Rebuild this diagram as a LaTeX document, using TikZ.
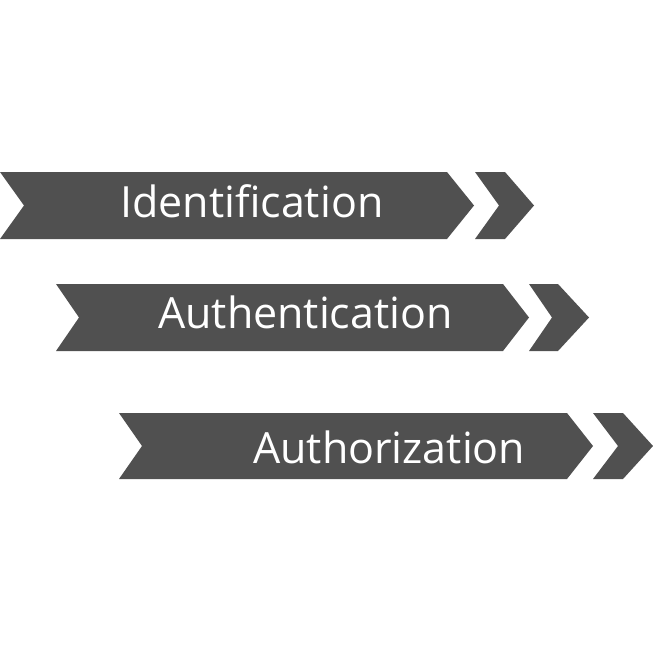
\documentclass[tikz,border=0pt]{standalone}
\usepackage{fontspec}
\setmainfont{Open Sans}
\usetikzlibrary{positioning}

\definecolor{arrowgray}{RGB}{80,80,80}

\begin{document}
\begin{tikzpicture}[x=1pt, y=-1pt]
		\tikzstyle{body}=[fill=arrowgray]
		\tikzstyle{label}=[text=white, inner sep=0pt, anchor=base west, font=\fontsize{43}{50}\selectfont]
		\fill[white] (0,0) rectangle (653,653);
		\useasboundingbox (0,0) rectangle (653,653);
		% first step
		\begin{scope}[shift={(0,172)}]
			\fill[body] (0,0) -- (447,0) -- (474,33.5) -- (447,67) -- (0,67) -- (24,33.5) -- cycle;
			\fill[body] (475,0) -- (505,0) -- (534,33.5) -- (505,67) -- (475,67) -- (499,33.5) -- cycle;
			\node[label] (ident) at (120,45) {Identification};
		\end{scope}
		% second step
		\begin{scope}[shift={(56,284)}]
			\fill[body] (0,0) -- (447,0) -- (473,33.5) -- (447,67) -- (0,67) -- (23,33.5) -- cycle;
			\fill[body] (473,0) -- (502,0) -- (533,33.5) -- (502,67) -- (473,67) -- (496,33.5) -- cycle;
			\node[label] (authn) at (102,44) {Authentication};
		\end{scope}
		% third step
		\begin{scope}[shift={(119,413)}]
			\fill[body] (0,0) -- (448,0) -- (474,33) -- (448,66) -- (0,66) -- (23,33) -- cycle;
			\fill[body] (474,0) -- (504,0) -- (534,33) -- (504,66) -- (474,66) -- (499,33) -- cycle;
			\node[label] (authz) at (134,50) {Authorization};
		\end{scope}
	\end{tikzpicture}
\end{document}
